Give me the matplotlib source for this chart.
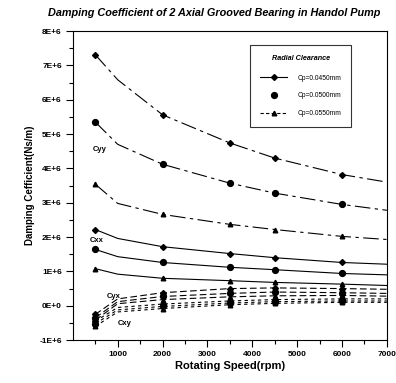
import numpy as np
import matplotlib
matplotlib.use('Agg')
import matplotlib.pyplot as plt
from matplotlib.lines import Line2D

plt.rcParams['font.family'] = ['Liberation Sans', 'DejaVu Sans']

# rotating speed (rpm); markers only drawn at the measured points
speed = [500, 1000, 2000, 3500, 4500, 6000, 7000]
marked = [0, 2, 3, 4, 5]

clearances = ['Cp=0.0450mm', 'Cp=0.0500mm', 'Cp=0.0550mm']

# damping coefficients in 1E+6 Ns/m, one list per clearance
cyy = [[7.31, 6.58, 5.56, 4.74, 4.30, 3.82, 3.60],
       [5.35, 4.70, 4.12, 3.57, 3.28, 2.95, 2.78],
       [3.54, 2.98, 2.66, 2.37, 2.22, 2.02, 1.93]]
cxx = [[2.22, 1.96, 1.72, 1.52, 1.40, 1.26, 1.21],
       [1.64, 1.43, 1.26, 1.12, 1.05, 0.94, 0.90],
       [1.08, 0.92, 0.80, 0.73, 0.68, 0.63, 0.59]]
cyx = [[-0.25, 0.20, 0.38, 0.50, 0.52, 0.50, 0.48],
       [-0.35, 0.12, 0.27, 0.36, 0.40, 0.38, 0.36],
       [-0.42, 0.06, 0.18, 0.26, 0.29, 0.30, 0.28]]
cxy = [[-0.45, -0.05, 0.05, 0.14, 0.18, 0.20, 0.20],
       [-0.52, -0.12, -0.02, 0.08, 0.12, 0.14, 0.14],
       [-0.60, -0.18, -0.08, 0.03, 0.07, 0.10, 0.10]]

y_ticks = [-1, 0, 1, 2, 3, 4, 5, 6, 7, 8]
y_labels = ['-1E+6', '0E+0', '1E+6', '2E+6', '3E+6', '4E+6',
            '5E+6', '6E+6', '7E+6', '8E+6']
x_ticks = [1000, 2000, 3000, 4000, 5000, 6000, 7000]

markers = ['D', 'o', '^']
msizes = [3.0, 4.2, 3.3]

fig = plt.figure(figsize=(3.96, 3.83), dpi=100)
ax = fig.add_axes([0.184, 0.112, 0.793, 0.807])

groups = [
    (cyy, (0, (14, 4, 3, 4))),
    (cxx, '-'),
    (cyx, (0, (6, 3))),
    (cxy, (0, (3, 3))),
]
for data, ls in groups:
    for i, vals in enumerate(data):
        ax.plot(speed, np.array(vals) * 1e6, color='black', lw=0.8, ls=ls,
                marker=markers[i], ms=msizes[i], markevery=marked)

ax.text(450, 4.5e6, 'Cyy', fontsize=5.5, fontweight='bold')
ax.text(380, 1.85e6, 'Cxx', fontsize=5.5, fontweight='bold')
ax.text(750, 0.22e6, 'Cyx', fontsize=5.5, fontweight='bold')
ax.text(1000, -0.55e6, 'Cxy', fontsize=5.5, fontweight='bold')

ax.set_xlim(0, 7000)
ax.set_ylim(-1e6, 8e6)
ax.set_yticks(np.array(y_ticks) * 1e6)
ax.set_yticklabels(y_labels)
ax.set_yticks(np.arange(-0.5, 8, 1) * 1e6, minor=True)
ax.set_xticks(x_ticks)
ax.set_xticks(np.arange(500, 7000, 500), minor=True)
ax.tick_params(which='major', length=5, width=0.8, labelsize=6, pad=3)
ax.tick_params(which='minor', length=3, width=0.8)
for lab in ax.get_xticklabels() + ax.get_yticklabels():
    lab.set_fontweight('bold')
for s in ax.spines.values():
    s.set_linewidth(0.8)

ax.set_xlabel('Rotating Speed(rpm)', fontsize=8, fontweight='bold', labelpad=2)
ax.set_ylabel('Damping Cefficient(Ns/m)', fontsize=7, fontweight='bold', labelpad=3)
fig.text(0.54, 0.965, 'Damping Coefficient of 2 Axial Grooved Bearing in Handol Pump',
         ha='center', va='center', fontsize=7.8, fontweight='bold', style='italic')

handles = [
    Line2D([], [], color='black', lw=0.8, marker='D', ms=3.0),
    Line2D([], [], color='black', lw=0, marker='o', ms=4.2),
    Line2D([], [], color='black', lw=0.8, ls=(0, (3, 2)), marker='^', ms=3.3),
]
leg = ax.legend(handles, clearances, title='Radial Clearance', loc='upper left',
                bbox_to_anchor=(0.555, 0.965), fontsize=4.8, frameon=True,
                fancybox=False, edgecolor='black', handlelength=4.0,
                labelspacing=1.6, borderpad=1.5, handletextpad=1.5,
                title_fontproperties={'size': 5.2, 'weight': 'bold', 'style': 'italic'})
leg.get_frame().set_linewidth(0.8)
leg._legend_box.sep = 9

fig.savefig('out.png', dpi=100)
